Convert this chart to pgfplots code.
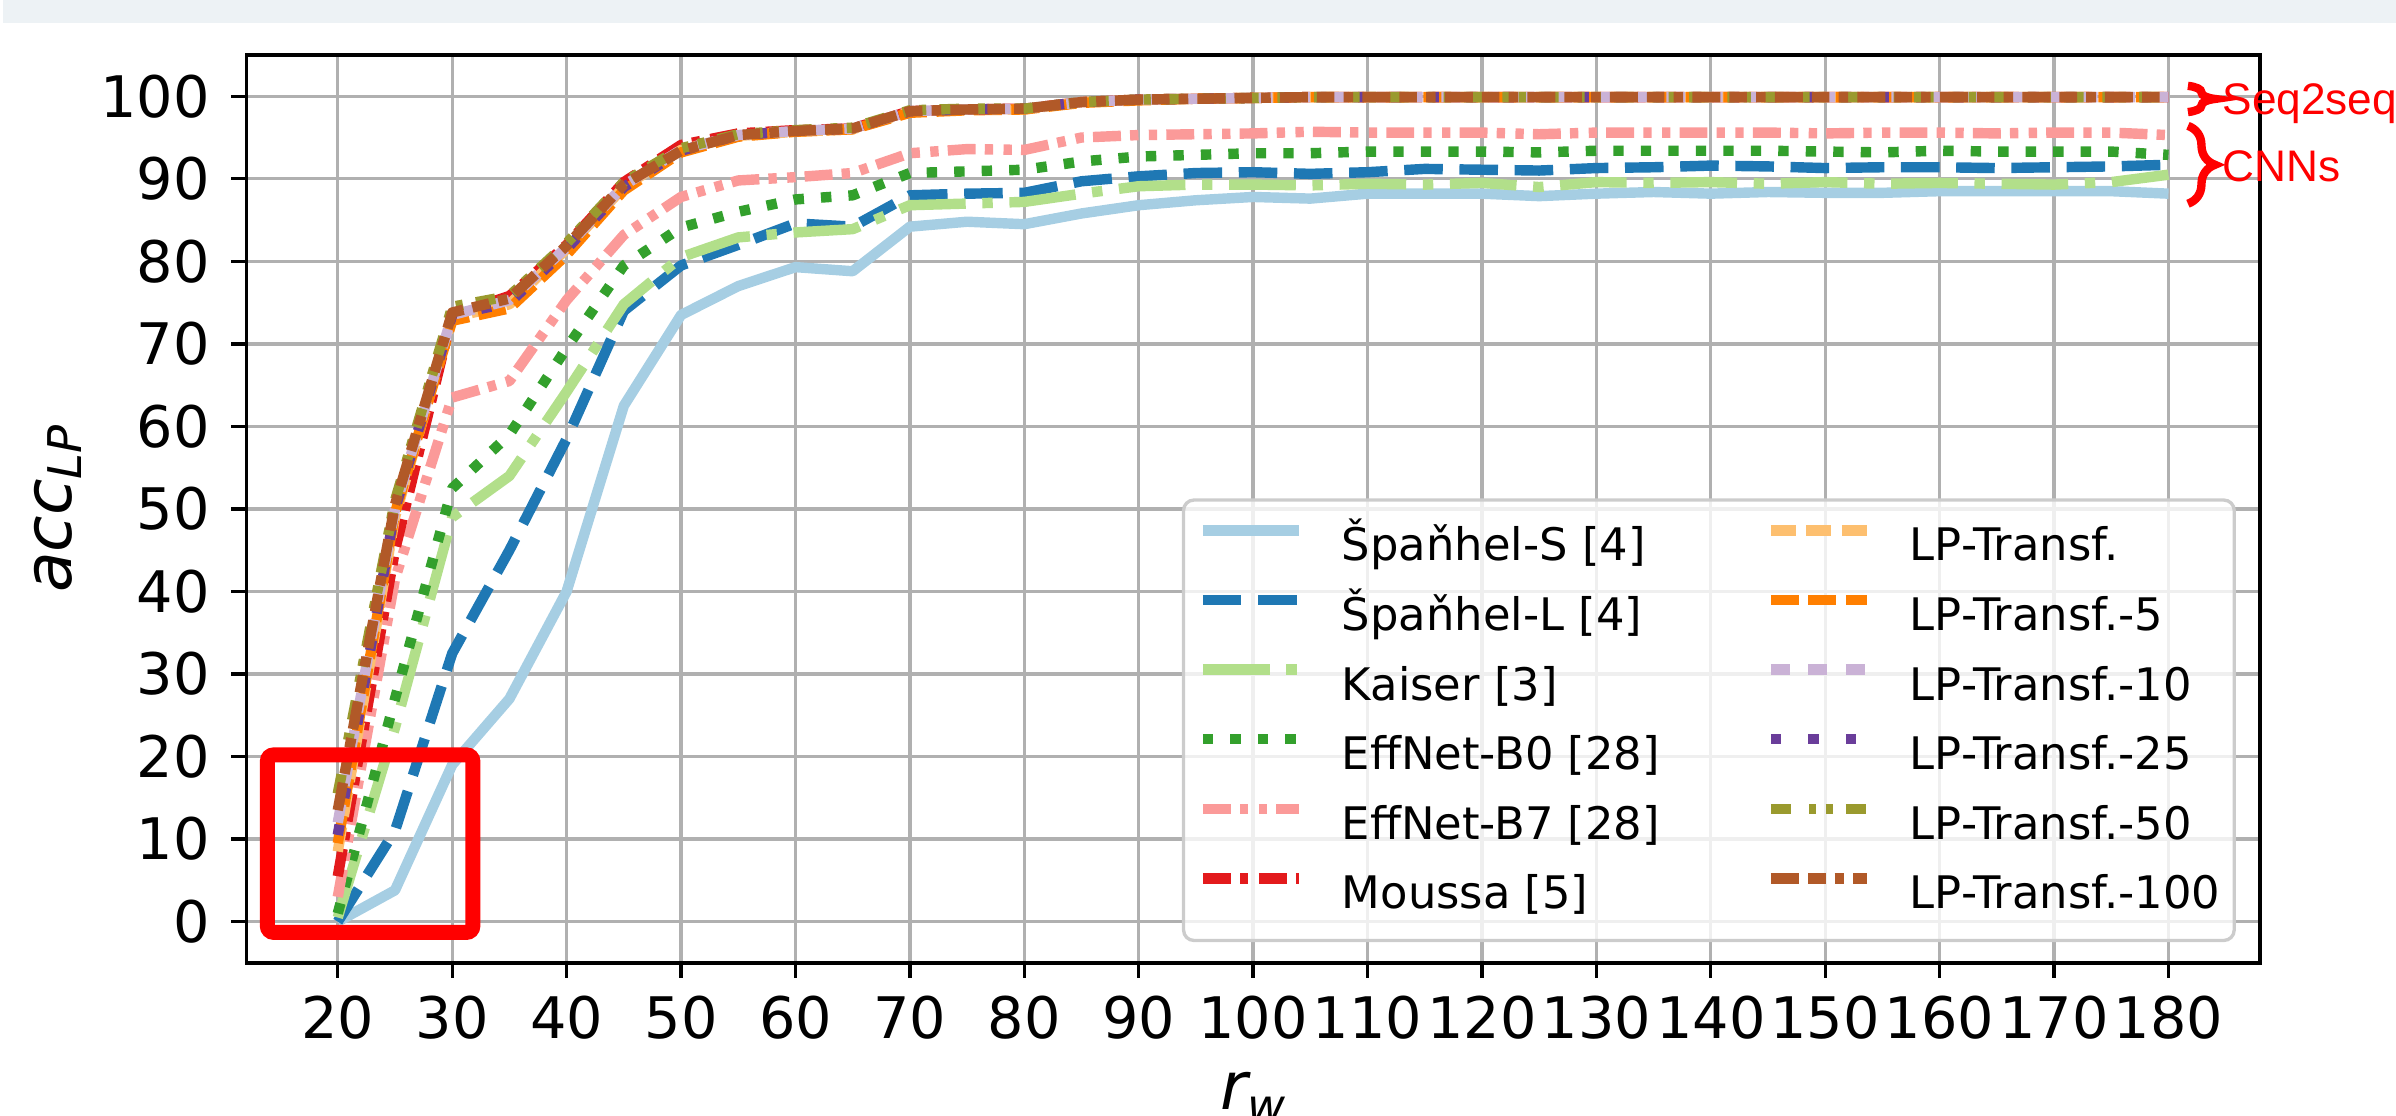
\documentclass[border=0pt]{standalone}
\usepackage{pgfplots}
\pgfplotsset{compat=1.18}
\usepackage{pgfplotstable}
\usepackage{fontspec}
\setmainfont{DejaVu Sans}
\newfontfamily\arialfont{Liberation Sans}
\usetikzlibrary{decorations.pathreplacing}

\definecolor{c1}{HTML}{A6CEE3}
\definecolor{c2}{HTML}{1F78B4}
\definecolor{c3}{HTML}{B2DF8A}
\definecolor{c4}{HTML}{33A02C}
\definecolor{c5}{HTML}{FB9A99}
\definecolor{c6}{HTML}{E31A1C}
\definecolor{c7}{HTML}{FDBF6F}
\definecolor{c8}{HTML}{FF7F00}
\definecolor{c9}{HTML}{CAB2D6}
\definecolor{c10}{HTML}{6A3D9A}
\definecolor{c11}{HTML}{9A9A2E}
\definecolor{c12}{HTML}{B15928}
\definecolor{gridgray}{HTML}{B0B0B0}
\definecolor{legendgray}{HTML}{CCCCCC}
\definecolor{bandcol}{HTML}{EDF2F5}

\pgfplotstableread{
x   S    L    K    B0   B7   M    T    T5   T10  T25  T50  T100
20  0.0  0.0  0.5  1.0  3.0  5.5  8.5  9.5  12.0 10.5 15.5 13.5
25  3.8  11.0 23.5 27.0 41.5 45.0 49.0 49.5 50.0 50.0 51.0 50.5
30  19.0 32.5 49.0 52.5 63.5 73.5 73.2 72.8 73.5 73.5 74.5 73.8
35  27.0 45.0 54.0 59.0 65.5 75.8 74.8 74.3 75.3 75.0 75.8 75.5
40  40.0 58.5 64.2 69.5 75.3 82.0 81.5 80.8 81.7 81.5 82.2 81.9
45  62.5 74.0 74.8 79.5 83.2 89.6 89.0 88.6 89.2 89.0 89.6 89.3
50  73.5 79.5 80.5 84.1 87.8 94.1 93.5 93.2 93.5 93.4 93.7 93.4
55  77.0 82.0 82.9 86.0 89.8 95.5 95.2 95.1 95.3 95.3 95.4 95.3
60  79.3 84.6 83.5 87.5 90.2 95.9 95.7 95.7 95.8 95.8 95.9 95.8
65  78.8 84.2 83.9 88.0 90.7 96.1 96.0 96.0 96.1 96.1 96.2 96.1
70  84.2 88.0 86.8 90.7 93.1 98.2 98.1 98.0 98.2 98.2 98.3 98.2
75  84.8 88.2 87.0 90.9 93.6 98.4 98.4 98.3 98.4 98.4 98.5 98.4
80  84.5 88.3 87.2 91.1 93.5 98.5 98.4 98.4 98.5 98.5 98.5 98.5
85  85.8 89.7 88.2 92.1 95.0 99.3 99.3 99.2 99.3 99.3 99.3 99.3
90  86.8 90.3 89.1 92.7 95.3 99.6 99.6 99.5 99.6 99.6 99.6 99.6
95  87.4 90.7 89.3 92.9 95.4 99.7 99.7 99.7 99.7 99.7 99.7 99.7
100 87.8 90.8 89.3 93.1 95.5 99.8 99.8 99.8 99.8 99.8 99.8 99.8
105 87.6 90.6 89.2 93.1 95.7 99.9 99.9 99.9 99.9 99.9 99.9 99.9
110 88.2 90.8 89.4 93.3 95.6 99.9 99.9 99.9 99.9 99.9 99.9 99.9
115 88.2 91.2 89.3 93.3 95.6 99.9 99.9 99.9 99.9 99.9 99.9 99.9
120 88.2 91.1 89.5 93.3 95.6 99.9 99.9 99.9 99.9 99.9 99.9 99.9
125 87.9 91.0 89.0 93.2 95.4 99.9 99.9 99.9 99.9 99.9 99.9 99.9
130 88.2 91.3 89.6 93.4 95.6 99.9 99.9 99.9 99.9 99.9 99.9 99.9
135 88.4 91.4 89.5 93.4 95.6 99.9 99.9 99.9 99.9 99.9 99.9 99.9
140 88.2 91.6 89.6 93.4 95.6 99.9 99.9 99.9 99.9 99.9 99.9 99.9
145 88.4 91.5 89.4 93.4 95.6 99.9 99.9 99.9 99.9 99.9 99.9 99.9
150 88.3 91.3 89.6 93.3 95.5 99.9 99.9 99.9 99.9 99.9 99.9 99.9
155 88.3 91.4 89.4 93.2 95.6 99.9 99.9 99.9 99.9 99.9 99.9 99.9
160 88.5 91.4 89.5 93.4 95.6 99.9 99.9 99.9 99.9 99.9 99.9 99.9
165 88.5 91.3 89.4 93.3 95.5 99.9 99.9 99.9 99.9 99.9 99.9 99.9
170 88.5 91.4 89.3 93.3 95.6 99.9 99.9 99.9 99.9 99.9 99.9 99.9
175 88.5 91.5 89.6 93.3 95.6 99.9 99.9 99.9 99.9 99.9 99.9 99.9
180 88.2 91.7 90.5 92.9 95.3 99.9 99.9 99.9 99.9 99.9 99.9 99.9
}\datatable

\pgfplotsset{
  base/.style={line width=2.5bp, line join=round},
  sS/.style={base, c1, solid},
  sL/.style={base, c2, dash pattern=on 9.25bp off 4bp},
  sK/.style={base, c3, dash pattern=on 16bp off 4bp on 2.5bp off 4bp},
  sB0/.style={base, c4, dash pattern=on 2.5bp off 4.1bp},
  sB7/.style={base, c5, dash pattern=on 6.7bp off 2.2bp on 2bp off 2.5bp on 2bp off 2.2bp},
  sM/.style={base, c6, dash pattern=on 6.7bp off 2.2bp on 2bp off 2.5bp},
  sT/.style={base, c7, dash pattern=on 6bp off 2.5bp},
  sT5/.style={base, c8, dash pattern=on 6.7bp off 2.3bp},
  sT10/.style={base, c9, dash pattern=on 4.5bp off 4.5bp},
  sT25/.style={base, c10, dash pattern=on 2.5bp off 6.5bp},
  sT50/.style={base, c11, dash pattern=on 4.7bp off 4.5bp on 1.7bp off 2.2bp on 1.7bp off 3.2bp},
  sT100/.style={base, c12, dash pattern=on 6.7bp off 2.2bp on 4.2bp off 2.2bp on 2.3bp off 2.2bp},
}

\begin{document}
\begin{tikzpicture}
\path[use as bounding box] (-59.1bp,-36.5bp) rectangle (515.94bp,231.1bp);
\clip (-59.1bp,-36.5bp) rectangle (515.94bp,231.1bp);
\fill[bandcol] (-58.4bp,225.6bp) rectangle (515.94bp,231.1bp);
\begin{axis}[
  scale only axis,
  width=483.3bp, height=217.9bp,
  at={(0,0)}, anchor=south west,
  xmin=12, xmax=188, ymin=-5, ymax=105,
  xtick={20,30,...,180}, ytick={0,10,...,100},
  grid=major,
  major grid style={color=gridgray, line width=0.8bp},
  axis line style={line width=0.8bp, black},
  tick align=outside, major tick length=3.6bp,
  tick style={line width=0.8bp, black},
  xtick pos=bottom, ytick pos=left,
  /pgf/number format/assume math mode=true,
  ticklabel style={font=\fontsize{13.8}{16}\selectfont},
  xticklabel style={anchor=north, inner sep=0pt, yshift=-4.1bp},
  yticklabel style={anchor=east, inner sep=0pt, xshift=-5bp},
  every axis x label/.style={at={(axis description cs:0.5,0)}, anchor=base, yshift=-35.2bp},
  every axis y label/.style={at={(axis description cs:-0.0937,0.5)}, rotate=90, anchor=center},
  xlabel={\fontsize{16}{16}\selectfont\itshape r\raisebox{-3bp}{\fontsize{11.2}{11.2}\selectfont w}},
  ylabel={\fontsize{16}{16}\selectfont\itshape acc\raisebox{-2.4bp}{\fontsize{11.2}{11.2}\selectfont LP}},
  legend columns=2,
  legend cell align=left,
  legend image code/.code={\draw[#1] (0bp,3.8bp) -- (23bp,3.8bp);},
  legend style={
    at={(axis description cs:0.988,0.0229)}, anchor=south east,
    draw=legendgray, line width=0.8bp, rounded corners=2.5bp,
    fill=white, fill opacity=0.8, text opacity=1, draw opacity=1,
    inner xsep=3.4bp, inner ysep=4.6bp, row sep=3.7bp,
    font=\fontsize{10.8}{13}\selectfont,
    nodes={inner sep=0pt, text height=10bp, text depth=3bp},
    /tikz/every odd column/.append style={column sep=9.1bp},
    /tikz/every even column/.append style={column sep=25.4bp},
  },
]
\addplot[sS, forget plot] table[x=x, y=S] {\datatable};
\addplot[sL, forget plot] table[x=x, y=L] {\datatable};
\addplot[sK, forget plot] table[x=x, y=K] {\datatable};
\addplot[sB0, forget plot] table[x=x, y=B0] {\datatable};
\addplot[sB7, forget plot] table[x=x, y=B7] {\datatable};
\addplot[sM, forget plot] table[x=x, y=M] {\datatable};
\addplot[sT, forget plot] table[x=x, y=T] {\datatable};
\addplot[sT5, forget plot] table[x=x, y=T5] {\datatable};
\addplot[sT10, forget plot] table[x=x, y=T10] {\datatable};
\addplot[sT25, forget plot] table[x=x, y=T25] {\datatable};
\addplot[sT50, forget plot] table[x=x, y=T50] {\datatable};
\addplot[sT100, forget plot] table[x=x, y=T100] {\datatable};

\addlegendimage{sS} \addlegendentry{Špaňhel-S [4]}
\addlegendimage{sT} \addlegendentry{LP-Transf.}
\addlegendimage{sL} \addlegendentry{Špaňhel-L [4]}
\addlegendimage{sT5} \addlegendentry{LP-Transf.-5}
\addlegendimage{sK} \addlegendentry{Kaiser [3]}
\addlegendimage{sT10} \addlegendentry{LP-Transf.-10}
\addlegendimage{sB0} \addlegendentry{EffNet-B0 [28]}
\addlegendimage{sT25} \addlegendentry{LP-Transf.-25}
\addlegendimage{sB7} \addlegendentry{EffNet-B7 [28]}
\addlegendimage{sT50} \addlegendentry{LP-Transf.-50}
\addlegendimage{sM} \addlegendentry{Moussa [5]}
\addlegendimage{sT100} \addlegendentry{LP-Transf.-100}

\draw[red, line width=3.6bp, rounded corners=1.5bp] (axis cs:13.85,-1.3) rectangle (axis cs:31.8,20.2);
\end{axis}
\draw[red, line width=2bp, decorate, decoration={brace, amplitude=6.5bp}] (466bp,210.5bp) -- (466bp,204.2bp);
\draw[red, line width=2bp, decorate, decoration={brace, amplitude=6.5bp}] (466bp,200.9bp) -- (466bp,182.2bp);
\node[anchor=base west, inner sep=0pt, text=red, font=\arialfont\fontsize{10.65}{12}\selectfont] at (474.1bp,203.5bp) {Seq2seq};
\node[anchor=base west, inner sep=0pt, text=red, font=\arialfont\fontsize{10.65}{12}\selectfont] at (474.1bp,187.5bp) {CNNs};
\end{tikzpicture}
\end{document}
